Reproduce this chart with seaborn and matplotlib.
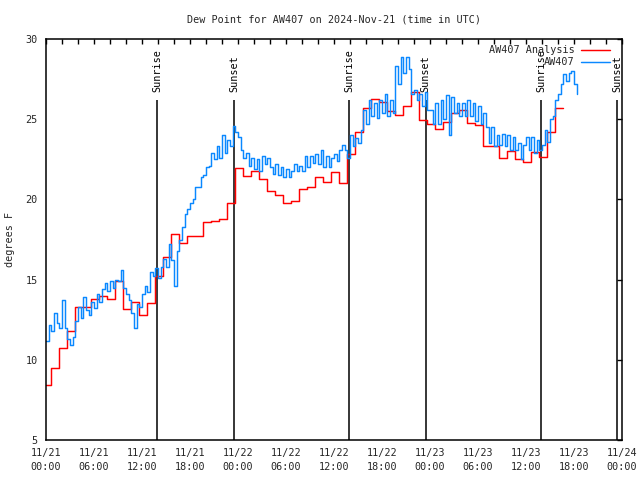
"""
Dew point chart for AW407 (observations vs. hourly analysis), gnuplot look.
"""

import matplotlib
matplotlib.use("Agg")
import matplotlib.pyplot as plt
import seaborn as sns
import pandas as pd

# --- data -------------------------------------------------------------------
START = pd.Timestamp("2024-11-21 00:00")
END = pd.Timestamp("2024-11-24 00:00")

# hourly analysis, each value holds until the next one (first one from 00:00)
analysis_start_val = 8.4
analysis_vals = [
    9.5, 10.75, 11.8, 13.27, 13.27, 13.79, 13.98, 13.8, 14.91, 13.15,
    13.58, 12.77, 13.52, 15.22, 16.39, 17.84, 17.26, 17.7, 17.7, 18.61,
    18.65, 18.78, 19.8, 21.94, 21.44, 21.77, 21.25, 20.52, 20.25, 19.8,
    19.92, 20.65, 20.79, 21.38, 21.1, 21.69, 21.04, 22.8, 24.2, 25.68,
    26.24, 26.05, 25.5, 25.26, 25.84, 26.72, 24.95, 24.7, 24.39, 24.84,
    25.41, 25.57, 24.74, 24.64, 23.35, 23.35, 22.6, 23.0, 22.5, 22.35,
    22.93, 22.66, 24.2, 25.7,
]
analysis_first_step = "2024-11-21 00:39"

# station observations, every 20 minutes from 00:00
obs_vals = [
    11.2, 12.2, 11.8,   12.9, 12.3, 12.0,   13.7, 12.0, 11.3,   10.9, 11.4, 12.4,
    13.3, 12.6, 13.9,   13.1, 12.8, 13.6,   13.2, 14.1, 13.6,   14.4, 14.8, 14.3,
    14.9, 14.5, 15.0,   14.9, 15.6, 14.5,   14.1, 13.7, 12.9,   12.0, 13.5, 13.3,
    14.1, 14.6, 14.2,   15.5, 15.2, 15.7,   15.1, 15.8, 16.3,   15.8, 17.2, 16.2,
    14.6, 16.8, 17.5,   18.3, 19.1, 19.4,   19.8, 20.0, 20.8,   20.8, 21.4, 21.5,
    22.0, 22.1, 22.9,   22.5, 23.3, 22.6,   24.0, 22.9, 23.7,   23.3, 24.6, 24.2,
    23.9, 23.1, 22.6,   22.9, 22.1, 22.6,   21.9, 22.5, 21.8,   22.7, 22.2, 22.6,
    22.0, 21.6, 22.2,   21.5, 22.0, 21.4,   21.9, 21.4, 21.8,   22.2, 21.8, 22.1,
    21.8, 22.7, 22.0,   22.7, 22.3, 22.8,   22.2, 23.1, 22.0,   22.7, 22.0, 22.6,
    22.8, 22.4, 23.1,   23.4, 23.1, 22.6,   24.0, 23.3, 23.8,   23.5, 24.3, 25.6,
    24.7, 26.2, 25.2,   26.0, 25.1, 26.2,   25.4, 26.6, 25.2,   26.2, 25.4, 28.3,
    27.2, 28.9, 27.9,   28.9, 28.1, 26.6,   26.8, 26.2, 26.6,   25.8, 26.7, 25.6,
    25.6, 24.7, 26.0,   24.7, 26.2, 25.0,   26.5, 24.0, 26.4,   25.4, 26.0, 25.2,
    26.0, 25.2, 26.2,   25.2, 26.0, 24.9,   25.8, 24.7, 25.4,   24.5, 23.5, 24.5,
    23.3, 24.0, 23.4,   24.1, 23.3, 24.0,   23.1, 23.9, 23.1,   23.5, 22.5, 23.4,
    23.9, 23.1, 23.9,   22.9, 23.7, 23.1,   23.4, 24.3, 23.6,   25.0, 25.2, 26.2,
    26.6, 27.2, 27.8,   27.4, 27.9, 28.0,   27.2, 26.6,
]

sun_times = ["2024-11-21 13:55", "2024-11-21 23:32", "2024-11-22 13:55",
             "2024-11-22 23:28", "2024-11-23 13:55", "2024-11-23 23:25"]
sun_labels = ["Sunrise", "Sunset", "Sunrise", "Sunset", "Sunrise", "Sunset"]

x_ticks = ["2024-11-21 00:00", "2024-11-21 06:00", "2024-11-21 12:00", "2024-11-21 18:00",
           "2024-11-22 00:00", "2024-11-22 06:00", "2024-11-22 12:00", "2024-11-22 18:00",
           "2024-11-23 00:00", "2024-11-23 06:00", "2024-11-23 12:00", "2024-11-23 18:00",
           "2024-11-24 00:00"]
x_tick_labels = ["11/21\n00:00", "11/21\n06:00", "11/21\n12:00", "11/21\n18:00",
                 "11/22\n00:00", "11/22\n06:00", "11/22\n12:00", "11/22\n18:00",
                 "11/23\n00:00", "11/23\n06:00", "11/23\n12:00", "11/23\n18:00",
                 "11/24\n00:00"]
y_ticks = [5, 10, 15, 20, 25, 30]

RED = "#ff0000"
BLUE = "#0a88ff"
FS = 7.3
LW = 1.05

# --- frames -----------------------------------------------------------------
ana_t = pd.date_range(analysis_first_step, periods=len(analysis_vals), freq="h")
df_ana = pd.DataFrame({
    "time": [START] + list(ana_t) + [ana_t[-1] + pd.Timedelta(hours=1)],
    "dewpoint": [analysis_start_val] + analysis_vals + [analysis_vals[-1]],
})
df_obs = pd.DataFrame({
    "time": pd.date_range(START, periods=len(obs_vals), freq="20min"),
    "dewpoint": obs_vals,
})

# --- plot -------------------------------------------------------------------
sns.set_theme(style="white")
plt.rcParams["font.family"] = ["DejaVu Sans Mono", "DejaVu Sans"]

fig = plt.figure(figsize=(6.4, 4.8), dpi=100)
ax = fig.add_axes([46 / 640, 40 / 480, 576 / 640, 401 / 480])

sns.lineplot(data=df_ana, x="time", y="dewpoint", ax=ax, color=RED, lw=LW,
             drawstyle="steps-post", estimator=None)
sns.lineplot(data=df_obs, x="time", y="dewpoint", ax=ax, color=BLUE, lw=LW,
             drawstyle="steps-post", estimator=None)

sun_t = pd.to_datetime(sun_times)
ax.vlines(sun_t, 5, 26.2, color="black", lw=1.1, zorder=1)
for t, lbl in zip(sun_t, sun_labels):
    ax.text(t, 26.7, lbl, rotation=90, ha="center", va="bottom",
            fontsize=FS, color="black")

ax.set_xlim(START, END)
ax.set_ylim(5, 30)
ax.set_xticks(pd.to_datetime(x_ticks), labels=x_tick_labels, linespacing=1.45)
ax.set_xticks(pd.date_range(START, END, freq="2h"), minor=True)
ax.set_yticks(y_ticks)

ax.tick_params(which="both", direction="in", top=True, right=True,
               length=3.4, width=1, color="black", labelsize=FS, pad=6)
for s in ax.spines.values():
    s.set_color("black")
    s.set_linewidth(1.1)

ax.set_xlabel("")
ax.set_ylabel("degrees F", fontsize=FS)
ax.yaxis.set_label_coords(-0.054, 0.5)
ax.set_title("Dew Point for AW407 on 2024-Nov-21 (time in UTC)", fontsize=FS, pad=12)

# gnuplot style key: right aligned text with line sample after it
for ypos, lbl, col in [(0.9726, "AW407 Analysis", RED), (0.9414, "AW407", BLUE)]:
    ax.text(0.918, ypos, lbl, transform=ax.transAxes, ha="right", va="center",
            fontsize=FS)
    ax.plot([0.9288, 0.9792], [ypos, ypos], transform=ax.transAxes,
            color=col, lw=LW)

plt.savefig("out.png", dpi=100)
plt.close()
